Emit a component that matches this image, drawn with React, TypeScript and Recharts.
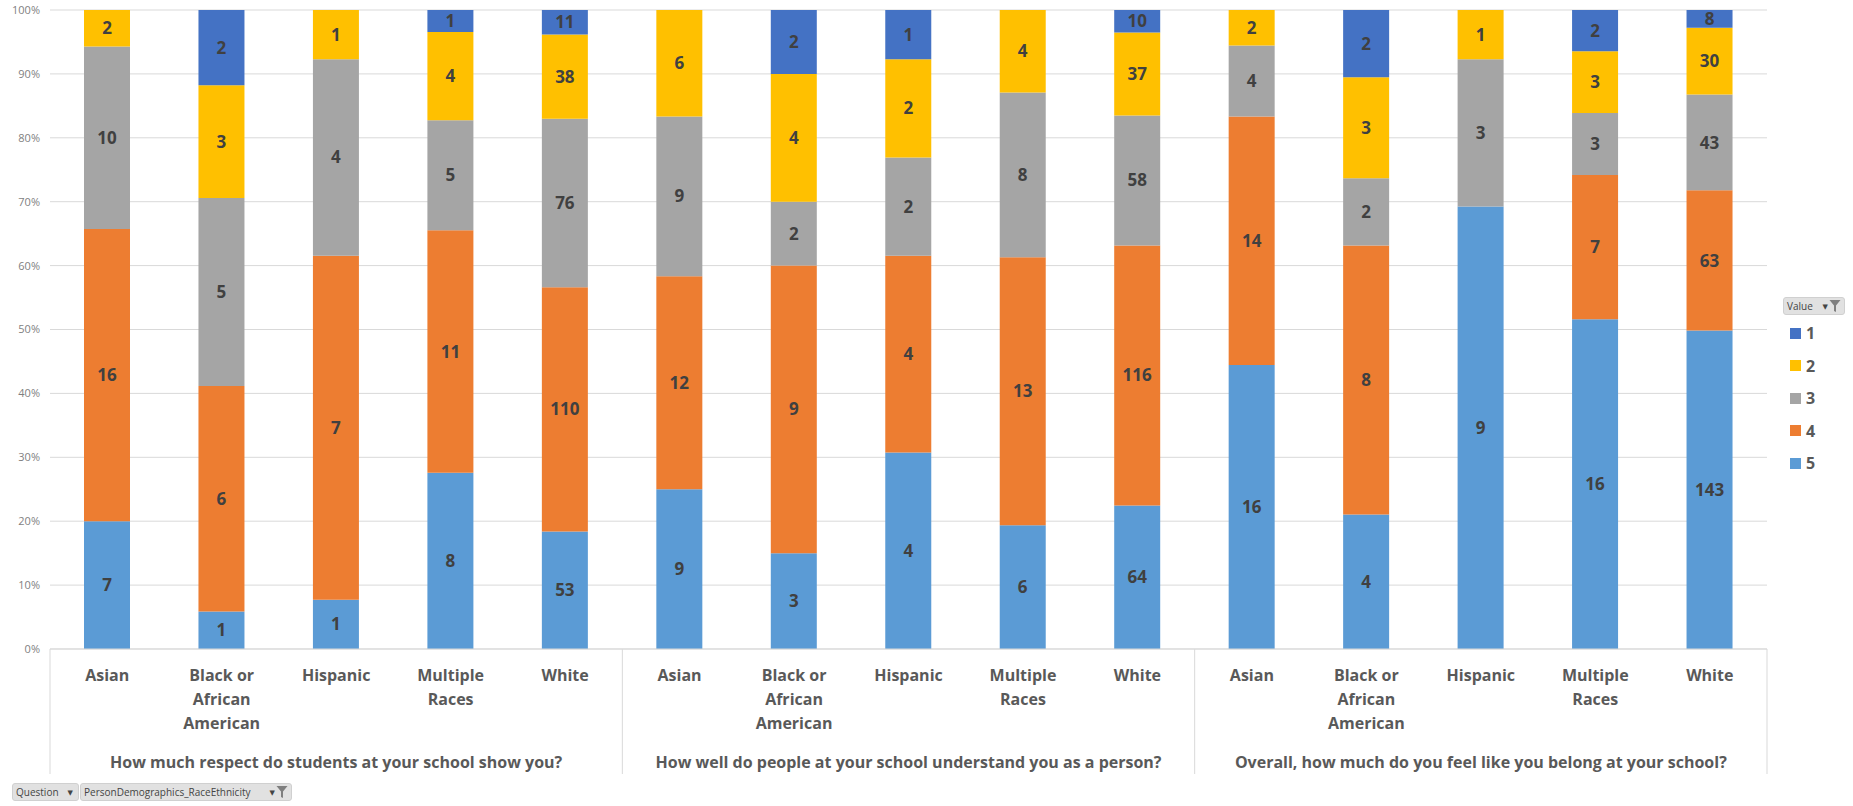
import React from "react";
import { BarChart, Bar, XAxis, YAxis, CartesianGrid, Legend, LabelList } from "recharts";

const questions = [
  "How much respect do students at your school show you?",
  "How well do people at your school understand you as a person?",
  "Overall, how much do you feel like you belong at your school?",
];
const races = ["Asian", "Black or African American", "Hispanic", "Multiple Races", "White"];
const raceLines: Record<string, string[]> = {
  Asian: ["Asian"],
  "Black or African American": ["Black or", "African", "American"],
  Hispanic: ["Hispanic"],
  "Multiple Races": ["Multiple", "Races"],
  White: ["White"],
};

const v5 = [7, 1, 1, 8, 53, 9, 3, 4, 6, 64, 16, 4, 9, 16, 143];
const v4 = [16, 6, 7, 11, 110, 12, 9, 4, 13, 116, 14, 8, 0, 7, 63];
const v3 = [10, 5, 4, 5, 76, 9, 2, 2, 8, 58, 4, 2, 3, 3, 43];
const v2 = [2, 3, 1, 4, 38, 6, 4, 2, 4, 37, 2, 3, 1, 3, 30];
const v1 = [0, 2, 0, 1, 11, 0, 2, 1, 0, 10, 0, 2, 0, 2, 8];

const yTicks = [0, 0.1, 0.2, 0.3, 0.4, 0.5, 0.6, 0.7, 0.8, 0.9, 1];

const seriesKeys = ["5", "4", "3", "2", "1"];
const seriesColors: Record<string, string> = {
  "1": "#4472C4",
  "2": "#FFC000",
  "3": "#A5A5A5",
  "4": "#ED7D31",
  "5": "#5B9BD5",
};
const seriesValues: Record<string, number[]> = { "5": v5, "4": v4, "3": v3, "2": v2, "1": v1 };

const data = questions.flatMap((q, qi) =>
  races.map((r, ri) => {
    const i = qi * 5 + ri;
    const row: any = { key: `${qi}-${r}`, race: r, question: q };
    seriesKeys.forEach((k) => {
      row[k] = seriesValues[k][i];
    });
    return row;
  })
);

const FONT = "'Open Sans', 'DejaVu Sans', sans-serif";
const W = 1853;
const H = 806;
const PLOT_LEFT = 50;
const PLOT_RIGHT = 1767;
const BAND = (PLOT_RIGHT - PLOT_LEFT) / data.length;

const XTick = (props: any) => {
  const { x, y, index } = props;
  const row = data[index];
  if (!row) return null;
  const lines = raceLines[row.race] || [row.race];
  const els: any[] = [];
  lines.forEach((ln, li) => {
    els.push(
      <text
        key={`l${li}`}
        x={x}
        y={y + 26 + li * 24}
        textAnchor="middle"
        dominantBaseline="central"
        fontFamily={FONT}
        fontSize={16}
        fontWeight={700}
        fill="#595959"
      >
        {ln}
      </text>
    );
  });
  if (index % 5 === 2) {
    els.push(
      <text
        key="q"
        x={x}
        y={y + 113}
        textAnchor="middle"
        dominantBaseline="central"
        fontFamily={FONT}
        fontSize={16}
        fontWeight={700}
        fill="#595959"
      >
        {row.question}
      </text>
    );
  }
  if (index % 5 === 0) {
    els.push(
      <line key="sl" x1={x - BAND / 2} x2={x - BAND / 2} y1={y} y2={y + 125} stroke="#D9D9D9" strokeWidth={1} />
    );
  }
  if (index === data.length - 1) {
    els.push(
      <line key="sr" x1={x + BAND / 2} x2={x + BAND / 2} y1={y} y2={y + 125} stroke="#D9D9D9" strokeWidth={1} />
    );
  }
  return <g>{els}</g>;
};

const Funnel = ({ size = 12 }: { size?: number }) => (
  <svg width={size} height={size + 2} viewBox="0 0 12 14" style={{ display: "block" }}>
    <path d="M0.5 1 L11.5 1 L7 6.5 L7 13 L5 12 L5 6.5 Z" fill="#7F7F7F" />
  </svg>
);

const Button = ({ label, width, filter }: { label: string; width: number; filter?: boolean }) => (
  <div
    style={{
      width,
      height: 18,
      boxSizing: "border-box",
      background: "#E1E1E1",
      border: "1px solid #D0D0D0",
      borderRadius: 3,
      display: "flex",
      alignItems: "center",
      paddingLeft: 3,
      paddingRight: 3,
      fontFamily: FONT,
      fontSize: 10,
      color: "#444",
    }}
  >
    <span style={{ flex: 1, whiteSpace: "nowrap" }}>{label}</span>
    <span style={{ fontSize: 7, marginRight: filter ? 1 : 2 }}>▼</span>
    {filter ? <Funnel /> : null}
  </div>
);

const renderLegend = () => (
  <div style={{ paddingLeft: 16, fontFamily: FONT }}>
    <Button label="Value" width={62} filter />
    <div style={{ marginTop: 2, paddingLeft: 7 }}>
      {["1", "2", "3", "4", "5"].map((k) => (
        <div key={k} style={{ height: 32.5, display: "flex", alignItems: "center" }}>
          <div style={{ width: 11, height: 11, background: seriesColors[k], marginRight: 5 }} />
          <span style={{ fontSize: 16, fontWeight: 700, color: "#595959" }}>{k}</span>
        </div>
      ))}
    </div>
  </div>
);

const labelFormatter = (v: any) => (v === 0 || v === undefined || v === null ? "" : v);

export default function App() {
  return (
    <div style={{ position: "absolute", left: 0, top: 0, width: W, height: H, background: "#fff" }}>
      <BarChart
        width={W}
        height={H}
        data={data}
        stackOffset="expand"
        margin={{ top: 10, right: 0, bottom: 0, left: 0 }}
      >
        <CartesianGrid vertical={false} stroke="#D9D9D9" />
        <XAxis
          dataKey="key"
          height={157}
          interval={0}
          tickLine={false}
          tickSize={0}
          tickMargin={0}
          axisLine={{ stroke: "#D9D9D9" }}
          tick={<XTick />}
        />
        <YAxis
          width={50}
          domain={[0, 1]}
          ticks={yTicks}
          tickFormatter={(v: number) => `${Math.round(v * 100)}%`}
          axisLine={false}
          tickLine={false}
          tickMargin={4}
          tick={{ fontSize: 11, fill: "#7F7F7F", fontFamily: FONT }}
        />
        <Legend
          layout="vertical"
          align="right"
          verticalAlign="top"
          wrapperStyle={{ top: 297, right: 0, width: 86 }}
          content={renderLegend}
        />
        {seriesKeys.map((k) => (
          <Bar key={k} dataKey={k} stackId="a" fill={seriesColors[k]} barSize={46} isAnimationActive={false}>
            <LabelList
              dataKey={k}
              position="center"
              formatter={labelFormatter}
              style={{ fontFamily: FONT, fontSize: 17, fontWeight: 700, fill: "#404040" }}
            />
          </Bar>
        ))}
      </BarChart>
      <div style={{ position: "absolute", left: 12, top: 783, display: "flex", gap: 1 }}>
        <Button label="Question" width={67} />
        <Button label="PersonDemographics_RaceEthnicity" width={212} filter />
      </div>
    </div>
  );
}
